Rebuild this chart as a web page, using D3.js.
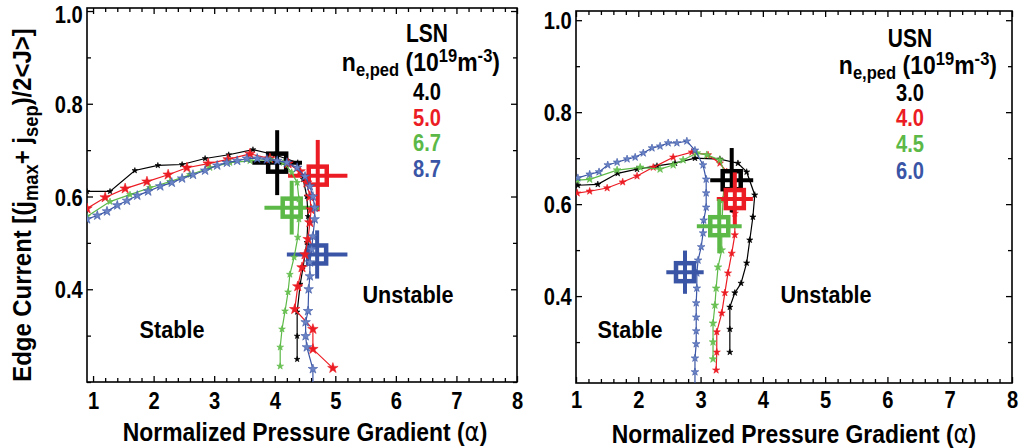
<!DOCTYPE html>
<html>
<head>
<meta charset="utf-8">
<script src="https://cdn.jsdelivr.net/npm/d3@7"></script>
<style>
  body { margin: 0; background: #fff; }
  svg { display: block; }
  text { font-family: "Liberation Sans", Arial, Helvetica, sans-serif; font-weight: bold; }
</style>
</head>
<body>
<svg id="chart" width="1019" height="448"></svg>
<script>
// ---- tick labels ----
const xTickValues = [1, 2, 3, 4, 5, 6, 7, 8];
const yTickValues = [0.4, 0.6, 0.8, 1.0];

// ---- series colours (density order) ----
const seriesColors = ["#000000", "#ec1c24", "#5cb947", "#3a55a5"];
const seriesFill   = ["#000000", "#ec1c24", "#6cc455", "#6b84c6"];

// ---- LSN: pedestal densities (10^19 m^-3) ----
const lsnDensities = ["4.0", "5.0", "6.7", "8.7"];

// stability boundaries, alpha vs edge current, one pair per density
const lsnAlpha40 = [0.90, 1.28, 1.69, 2.07, 2.47, 2.85, 3.24, 3.64, 4.00, 4.38, 4.47, 4.53, 4.55, 4.53, 4.47, 4.42, 4.37, 4.37, 4.37];
const lsnJ40     = [0.611, 0.611, 0.656, 0.667, 0.669, 0.682, 0.690, 0.701, 0.690, 0.673, 0.637, 0.600, 0.557, 0.501, 0.449, 0.411, 0.351, 0.299, 0.249];

const lsnAlpha50 = [0.90, 1.20, 1.53, 1.89, 2.24, 2.55, 2.90, 3.23, 3.59, 3.92, 4.22, 4.42, 4.53, 4.58, 4.60, 4.58, 4.55, 4.50, 4.45, 4.38, 4.33, 4.63, 4.63, 4.96];
const lsnJ50     = [0.574, 0.598, 0.617, 0.632, 0.647, 0.662, 0.671, 0.680, 0.692, 0.682, 0.671, 0.654, 0.630, 0.600, 0.572, 0.544, 0.508, 0.475, 0.447, 0.406, 0.357, 0.314, 0.271, 0.230];

const lsnAlpha67 = [0.90, 1.28, 1.61, 1.94, 2.27, 2.60, 2.93, 3.26, 3.59, 3.92, 4.14, 4.28, 4.37, 4.40, 4.40, 4.38, 4.32, 4.25, 4.22, 4.17, 4.12, 4.09, 4.09];
const lsnJ67     = [0.557, 0.589, 0.604, 0.619, 0.632, 0.647, 0.662, 0.673, 0.677, 0.680, 0.673, 0.652, 0.630, 0.594, 0.551, 0.512, 0.469, 0.432, 0.394, 0.353, 0.314, 0.275, 0.234];

const lsnAlpha87 = [0.90, 1.07, 1.23, 1.40, 1.56, 1.73, 1.91, 2.11, 2.30, 2.47, 2.65, 2.85, 3.05, 3.21, 3.38, 3.54, 3.71, 3.87, 4.04, 4.20, 4.37, 4.50, 4.58, 4.63, 4.66, 4.66, 4.63, 4.61, 4.58, 4.58, 4.56, 4.55, 4.51, 4.51, 4.53, 4.63, 4.63];
const lsnJ87     = [0.551, 0.559, 0.568, 0.581, 0.591, 0.602, 0.611, 0.622, 0.630, 0.639, 0.647, 0.656, 0.667, 0.673, 0.677, 0.682, 0.682, 0.680, 0.677, 0.673, 0.662, 0.643, 0.622, 0.600, 0.576, 0.551, 0.514, 0.486, 0.458, 0.428, 0.400, 0.353, 0.329, 0.299, 0.275, 0.228, 0.190];

// experimental operating points with error bars
const lsnExpAlpha  = [4.04, 4.71, 4.28, 4.70];
const lsnExpJ      = [0.673, 0.645, 0.576, 0.475];
const lsnExpAlphaErr = [0.41, 0.49, 0.45, 0.50];
const lsnExpJErr     = [0.070, 0.077, 0.058, 0.052];

// ---- USN: pedestal densities (10^19 m^-3) ----
const usnDensities = ["3.0", "4.0", "4.5", "6.0"];

const usnAlpha30 = [1.03, 1.35, 1.67, 1.98, 2.30, 2.59, 2.91, 3.31, 3.60, 3.74, 3.87, 3.84, 3.79, 3.74, 3.65, 3.55, 3.47, 3.47, 3.47];
const usnJ30     = [0.641, 0.643, 0.667, 0.676, 0.683, 0.689, 0.700, 0.698, 0.689, 0.670, 0.620, 0.572, 0.522, 0.472, 0.428, 0.407, 0.376, 0.328, 0.278];

const usnAlpha40 = [1.02, 1.22, 1.50, 1.75, 1.98, 2.24, 2.56, 2.86, 3.12, 3.31, 3.42, 3.52, 3.55, 3.55, 3.50, 3.44, 3.39, 3.34, 3.26, 3.26, 3.25];
const usnJ40     = [0.624, 0.628, 0.635, 0.648, 0.661, 0.680, 0.702, 0.713, 0.707, 0.689, 0.670, 0.637, 0.580, 0.533, 0.493, 0.450, 0.407, 0.363, 0.322, 0.278, 0.239];

const usnAlpha45 = [1.02, 1.22, 1.66, 2.03, 2.35, 2.56, 2.72, 2.94, 3.10, 3.31, 3.39, 3.36, 3.34, 3.34, 3.28, 3.25, 3.23, 3.20, 3.20, 3.20];
const usnJ45     = [0.652, 0.654, 0.674, 0.680, 0.676, 0.685, 0.696, 0.711, 0.707, 0.696, 0.667, 0.609, 0.543, 0.500, 0.463, 0.417, 0.380, 0.341, 0.300, 0.263];

const usnAlpha60 = [1.03, 1.22, 1.37, 1.51, 1.66, 1.82, 1.95, 2.08, 2.22, 2.35, 2.48, 2.62, 2.78, 2.91, 3.04, 3.09, 3.09, 3.09, 3.05, 3.04, 3.01, 2.96, 2.94, 2.94, 2.93, 2.93, 2.93, 2.93, 2.91, 2.91, 2.91];
const usnJ60     = [0.657, 0.665, 0.670, 0.685, 0.691, 0.698, 0.702, 0.711, 0.722, 0.726, 0.733, 0.733, 0.737, 0.717, 0.685, 0.654, 0.624, 0.593, 0.565, 0.537, 0.507, 0.478, 0.450, 0.417, 0.385, 0.354, 0.324, 0.296, 0.265, 0.235, 0.200];

const usnExpAlpha  = [3.50, 3.55, 3.30, 2.75];
const usnExpJ      = [0.652, 0.611, 0.552, 0.452];
const usnExpAlphaErr = [0.345, 0.29, 0.36, 0.30];
const usnExpJErr     = [0.070, 0.058, 0.059, 0.047];

// ---- panel layout ----
const panels = [
  {
    id: "lsn", title: "LSN", densities: lsnDensities,
    curves: [[lsnAlpha40, lsnJ40], [lsnAlpha50, lsnJ50], [lsnAlpha67, lsnJ67], [lsnAlpha87, lsnJ87]],
    exp: [lsnExpAlpha, lsnExpJ, lsnExpAlphaErr, lsnExpJErr],
    xDomain: [0.9, 8], yDomain: [0.2, 1.0065],
    left: 87, right: 517, top: 8, bottom: 382,
    starSizes: [10, 34, 14, 28],
    curvesOnTop: true,
    legendX: 427, titleY: 42, unitRight: 500, unitY: 71, numY: [100, 125.5, 151, 177],
    stableX: 172, stableY: 338, unstableX: 408, unstableY: 303,
    xLabelPad: 10, xTitleY: 441
  },
  {
    id: "usn", title: "USN", densities: usnDensities,
    curves: [[usnAlpha30, usnJ30], [usnAlpha40, usnJ40], [usnAlpha45, usnJ45], [usnAlpha60, usnJ60]],
    exp: [usnExpAlpha, usnExpJ, usnExpAlphaErr, usnExpJErr],
    xDomain: [1, 8], yDomain: [0.211, 1.02],
    left: 576, right: 1012, top: 11, bottom: 383,
    starSizes: [12, 16, 18, 18],
    curvesOnTop: false,
    legendX: 910, titleY: 47, unitRight: 997, unitY: 74, numY: [101, 126, 152, 179],
    stableX: 630, stableY: 338, unstableX: 826, unstableY: 303,
    xLabelPad: 8, xTitleY: 443
  }
];

const svg = d3.select("#chart");
const NARROW = 0.84;

function drawPanel(p) {
  const x = d3.scaleLinear().domain(p.xDomain).range([p.left, p.right]);
  const y = d3.scaleLinear().domain(p.yDomain).range([p.bottom, p.top]);
  const g = svg.append("g").attr("class", "panel-" + p.id);

  g.append("clipPath").attr("id", "clip-" + p.id)
    .append("rect").attr("x", p.left).attr("y", p.top)
    .attr("width", p.right - p.left).attr("height", p.bottom - p.top);

  // minor and major ticks on all four sides, pointing inward
  const xMinor = d3.range(Math.ceil(p.xDomain[0] * 5 - 1e-9), Math.floor(p.xDomain[1] * 5 + 1e-9) + 1)
    .map(v => v / 5).filter(v => Math.abs(v - Math.round(v)) > 1e-6);
  const yAll = d3.range(Math.ceil(p.yDomain[0] * 10 - 1e-9), Math.floor(p.yDomain[1] * 10 + 1e-9) + 1).map(v => v / 10);
  const yMinor = yAll.filter(v => !yTickValues.some(t => Math.abs(t - v) < 1e-6));

  const styleAxis = a => {
    a.select(".domain").remove();
    a.attr("font-size", null).attr("font-family", null);
    a.selectAll("line").attr("stroke", "#000").attr("stroke-width", 1.3);
  };

  g.append("g").attr("transform", `translate(0,${p.bottom})`)
    .call(d3.axisBottom(x).tickValues(xMinor).tickSize(-4).tickFormat("")).call(styleAxis);
  g.append("g").attr("transform", `translate(0,${p.top})`)
    .call(d3.axisTop(x).tickValues(xMinor).tickSize(-4).tickFormat("")).call(styleAxis);
  g.append("g").attr("transform", `translate(0,${p.top})`)
    .call(d3.axisTop(x).tickValues(xTickValues).tickSize(-6).tickFormat("")).call(styleAxis);
  const xAxis = g.append("g").attr("transform", `translate(0,${p.bottom})`)
    .call(d3.axisBottom(x).tickValues(xTickValues).tickSize(-6).tickPadding(p.xLabelPad).tickFormat(d3.format("d")))
    .call(styleAxis);
  xAxis.selectAll("text").attr("fill", "#000").style("font-size", "24px").attr("transform", `scale(${NARROW},1)`);

  g.append("g").attr("transform", `translate(${p.left},0)`)
    .call(d3.axisLeft(y).tickValues(yMinor).tickSize(-4).tickFormat("")).call(styleAxis);
  g.append("g").attr("transform", `translate(${p.right},0)`)
    .call(d3.axisRight(y).tickValues(yMinor).tickSize(-4).tickFormat("")).call(styleAxis);
  g.append("g").attr("transform", `translate(${p.right},0)`)
    .call(d3.axisRight(y).tickValues(yTickValues).tickSize(-6).tickFormat("")).call(styleAxis);
  const yAxis = g.append("g").attr("transform", `translate(${p.left},0)`)
    .call(d3.axisLeft(y).tickValues(yTickValues).tickSize(-6).tickPadding(5).tickFormat(d3.format(".1f")))
    .call(styleAxis);
  // the topmost label sits a touch lower so it stays inside the page
  yAxis.selectAll("text").attr("fill", "#000").style("font-size", "24px")
    .attr("dy", d => (y(d) < 16 ? "0.46em" : "0.36em"))
    .attr("transform", `scale(${NARROW},1)`);

  // frame
  g.append("rect").attr("x", p.left).attr("y", p.top)
    .attr("width", p.right - p.left).attr("height", p.bottom - p.top)
    .attr("fill", "none").attr("stroke", "#000").attr("stroke-width", 1.6);

  const curveLayer = g.append("g").attr("clip-path", `url(#clip-${p.id})`);
  const expLayer = g.append("g");
  if (p.curvesOnTop) curveLayer.raise();

  // stability boundary curves with star markers
  const line = d3.line().x(d => x(d[0])).y(d => y(d[1]));
  p.curves.forEach((c, i) => {
    const pts = c[0].map((a, k) => [a, c[1][k]]);
    curveLayer.append("path").datum(pts).attr("d", line)
      .attr("fill", "none").attr("stroke", seriesColors[i]).attr("stroke-width", 1.2);
    curveLayer.selectAll(null).data(pts).join("path")
      .attr("transform", d => `translate(${x(d[0])},${y(d[1])})`)
      .attr("d", d3.symbol(d3.symbolStar, p.starSizes[i])())
      .attr("fill", seriesFill[i]).attr("stroke", seriesColors[i]).attr("stroke-width", 0.6);
  });

  // experimental points: thick cross with open square
  const [ea, ej, eda, edj] = p.exp;
  ea.forEach((a, i) => {
    const col = seriesColors[i];
    const cx = x(a), cy = y(ej[i]);
    const m = expLayer.append("g");
    m.append("rect").attr("x", cx - 9).attr("y", cy - 9).attr("width", 18).attr("height", 18)
      .attr("fill", "#fff").attr("stroke", col).attr("stroke-width", 4.5);
    m.append("line").attr("x1", x(a - eda[i])).attr("x2", x(a + eda[i])).attr("y1", cy).attr("y2", cy)
      .attr("stroke", col).attr("stroke-width", 4);
    m.append("line").attr("x1", cx).attr("x2", cx).attr("y1", y(ej[i] - edj[i])).attr("y2", y(ej[i] + edj[i]))
      .attr("stroke", col).attr("stroke-width", 4);
  });

  // legend
  g.append("text").attr("text-anchor", "middle")
    .attr("transform", `translate(${p.legendX},${p.titleY}) scale(${NARROW},1)`)
    .style("font-size", "25px").text(p.title);

  const u = g.append("text").attr("text-anchor", "end")
    .attr("transform", `translate(${p.unitRight},${p.unitY}) scale(0.92,1)`)
    .style("font-size", "25px");
  u.append("tspan").text("n");
  u.append("tspan").attr("dy", 5).style("font-size", "18px").text("e,ped");
  u.append("tspan").attr("dy", -5).text(" (10");
  u.append("tspan").attr("dy", -9).style("font-size", "18px").text("19");
  u.append("tspan").attr("dy", 9).text("m");
  u.append("tspan").attr("dy", -9).style("font-size", "18px").text("-3");
  u.append("tspan").attr("dy", 9).text(")");

  p.densities.forEach((d, i) => {
    g.append("text").attr("text-anchor", "middle")
      .attr("transform", `translate(${p.legendX},${p.numY[i]}) scale(${NARROW},1)`)
      .attr("fill", seriesColors[i]).style("font-size", "24px").text(d);
  });

  g.append("text").attr("text-anchor", "middle")
    .attr("transform", `translate(${p.stableX},${p.stableY}) scale(0.9,1)`)
    .style("font-size", "24px").text("Stable");
  g.append("text").attr("text-anchor", "middle")
    .attr("transform", `translate(${p.unstableX},${p.unstableY}) scale(0.9,1)`)
    .style("font-size", "24px").text("Unstable");

  // x axis title
  const xt = g.append("text").attr("text-anchor", "middle")
    .attr("transform", `translate(${(x(1) + x(8)) / 2},${p.xTitleY}) scale(0.88,1)`)
    .style("font-size", "26px");
  xt.append("tspan").text("Normalized Pressure Gradient (");
  xt.append("tspan").style("font-weight", "normal").style("font-family", "'DejaVu Sans', sans-serif").text("α");
  xt.append("tspan").text(")");
}

panels.forEach(drawPanel);

// y axis title (left panel only)
const yt = svg.append("text").attr("text-anchor", "middle")
  .attr("transform", "translate(31,205) rotate(-90) scale(0.92,1)")
  .style("font-size", "26px");
yt.append("tspan").text("Edge Current [(j");
yt.append("tspan").attr("dy", 7).style("font-size", "20px").text("max");
yt.append("tspan").attr("dy", -7).text("+ j");
yt.append("tspan").attr("dy", 7).style("font-size", "20px").text("sep");
yt.append("tspan").attr("dy", -7).text(")/2<J>]");
</script>
</body>
</html>
